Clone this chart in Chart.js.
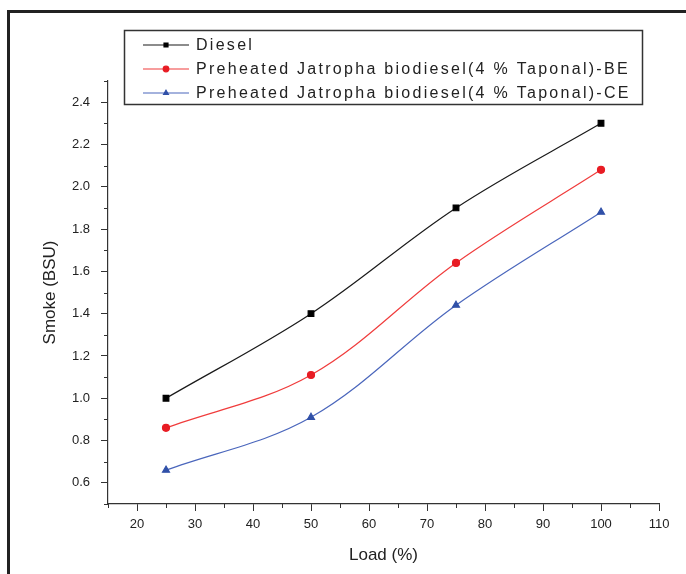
<!DOCTYPE html>
<html>
<head>
<meta charset="utf-8">
<script src="https://cdn.jsdelivr.net/npm/chart.js@4/dist/chart.umd.min.js"></script>
<style>
  html, body { margin: 0; padding: 0; background: #fff; }
  #wrap { width: 686px; height: 574px; }
</style>
</head>
<body>
<div id="wrap"><canvas id="smokeChart" width="686" height="574"></canvas></div>
<script>
// values
const loads = [25, 50, 75, 100];
const dieselSmoke = [1.00, 1.40, 1.90, 2.30];
const beSmoke = [0.86, 1.11, 1.64, 2.08];
const ceSmoke = [0.66, 0.91, 1.44, 1.88];
const seriesNames = [
    'Diesel',
    'Preheated Jatropha biodiesel(4 % Taponal)-BE',
    'Preheated Jatropha biodiesel(4 % Taponal)-CE'
];

const FONT = '"Liberation Sans", Arial, sans-serif';

function toPoints(vals) {
    return loads.map((x, i) => ({ x: x, y: vals[i] }));
}

// outer frame + minor ticks
const framePlugin = {
    id: 'framePlugin',
    beforeDraw(chart) {
        const ctx = chart.ctx;
        ctx.save();
        ctx.fillStyle = '#fff';
        ctx.fillRect(0, 0, chart.width, chart.height);
        ctx.strokeStyle = '#222';
        ctx.lineWidth = 3;
        ctx.beginPath();
        ctx.moveTo(8.5, chart.height + 5);
        ctx.lineTo(8.5, 11.5);
        ctx.lineTo(chart.width + 5, 11.5);
        ctx.stroke();
        ctx.restore();
    },
    afterDraw(chart) {
        const ctx = chart.ctx;
        const xs = chart.scales.x, ys = chart.scales.y;
        ctx.save();
        ctx.strokeStyle = '#333';
        ctx.lineWidth = 1;
        xs.ticks.forEach(t => {
            if (t.value % 10 !== 0) {
                const px = Math.round(xs.getPixelForValue(t.value)) + 0.5;
                ctx.beginPath();
                ctx.moveTo(px, ys.bottom);
                ctx.lineTo(px, ys.bottom + 4);
                ctx.stroke();
            }
        });
        ys.ticks.forEach(t => {
            if (Math.round(t.value * 10) % 2 !== 0) {
                const py = Math.round(ys.getPixelForValue(t.value)) + 0.5;
                ctx.beginPath();
                ctx.moveTo(xs.left, py);
                ctx.lineTo(xs.left - 4, py);
                ctx.stroke();
            }
        });
        ctx.restore();
    }
};

// boxed legend in the top of the plot
const boxLegend = {
    id: 'boxLegend',
    afterDraw(chart) {
        const ctx = chart.ctx;
        ctx.save();
        ctx.strokeStyle = '#333';
        ctx.lineWidth = 1.5;
        ctx.strokeRect(124.5, 30.5, 518, 74);
        ctx.font = '16px ' + FONT;
        ctx.textBaseline = 'middle';
        const longest = seriesNames[1];
        const w0 = ctx.measureText(longest).width;
        const spacing = Math.max(0, (434 - w0) / longest.length);
        chart.data.datasets.forEach((ds, i) => {
            const y = 45 + i * 24;
            ctx.letterSpacing = '0px';
            ctx.strokeStyle = ds.borderColor;
            ctx.lineWidth = 1.2;
            ctx.beginPath();
            ctx.moveTo(143, y);
            ctx.lineTo(189, y);
            ctx.stroke();
            ctx.fillStyle = ds.pointBackgroundColor;
            ctx.strokeStyle = ds.pointBackgroundColor;
            Chart.helpers.drawPoint(ctx, {
                pointStyle: ds.pointStyle,
                radius: 2.8,
                rotation: 0,
                borderWidth: 1
            }, 166, y);
            ctx.fillStyle = '#222';
            ctx.letterSpacing = spacing.toFixed(2) + 'px';
            ctx.fillText(ds.label, 196, y + 1);
        });
        ctx.restore();
    }
};

const ctx = document.getElementById('smokeChart').getContext('2d');
const chart = new Chart(ctx, {
    type: 'line',
    data: {
        datasets: [{
            label: seriesNames[0],
            data: toPoints(dieselSmoke),
            borderColor: '#1a1a1a',
            pointBackgroundColor: '#000',
            pointBorderColor: '#000',
            pointStyle: 'rect',
            pointRadius: 4,
            borderWidth: 1.2
        }, {
            label: seriesNames[1],
            data: toPoints(beSmoke),
            borderColor: '#f03c3c',
            pointBackgroundColor: '#e81c24',
            pointBorderColor: '#e81c24',
            pointStyle: 'circle',
            pointRadius: 3.5,
            borderWidth: 1.2
        }, {
            label: seriesNames[2],
            data: toPoints(ceSmoke),
            borderColor: '#4a66bc',
            pointBackgroundColor: '#3050a8',
            pointBorderColor: '#3050a8',
            pointStyle: 'triangle',
            pointRadius: 4,
            borderWidth: 1.2
        }]
    },
    options: {
        responsive: false,
        animation: false,
        devicePixelRatio: 1,
        tension: 0.35,
        layout: { padding: { top: 81, right: 27, left: 0, bottom: 0 } },
        plugins: {
            legend: { display: false },
            tooltip: { enabled: false }
        },
        scales: {
            x: {
                type: 'linear',
                min: 15,
                max: 110,
                afterFit(scale) { scale.height = 70; },
                border: { display: true, color: '#333', width: 1.2 },
                grid: {
                    drawOnChartArea: false,
                    tickLength: 7,
                    tickColor: c => (c.tick && c.tick.value % 10 === 0) ? '#333' : 'rgba(0,0,0,0)'
                },
                ticks: {
                    stepSize: 5,
                    autoSkip: false,
                    maxRotation: 0,
                    padding: 6,
                    color: '#222',
                    font: { family: FONT, size: 13 },
                    callback: v => (v % 10 === 0 ? String(v) : '')
                },
                title: {
                    display: true,
                    text: 'Load (%)',
                    color: '#222',
                    font: { family: FONT, size: 17 },
                    padding: { top: 0, bottom: 8 }
                }
            },
            y: {
                min: 0.5,
                max: 2.5,
                afterFit(scale) { scale.width = 108; },
                border: { display: true, color: '#333', width: 1.2 },
                grid: {
                    drawOnChartArea: false,
                    tickLength: 7,
                    tickColor: c => (c.tick && Math.round(c.tick.value * 10) % 2 === 0) ? '#333' : 'rgba(0,0,0,0)'
                },
                ticks: {
                    stepSize: 0.1,
                    autoSkip: false,
                    padding: 11,
                    color: '#222',
                    font: { family: FONT, size: 13 },
                    callback: v => (Math.round(v * 10) % 2 === 0 && v > 0.55 && v < 2.45 ? v.toFixed(1) : '')
                },
                title: {
                    display: true,
                    text: 'Smoke (BSU)',
                    color: '#222',
                    font: { family: FONT, size: 17 },
                    padding: { top: 40, bottom: 0 }
                }
            }
        }
    },
    plugins: [framePlugin, boxLegend]
});
</script>
</body>
</html>
